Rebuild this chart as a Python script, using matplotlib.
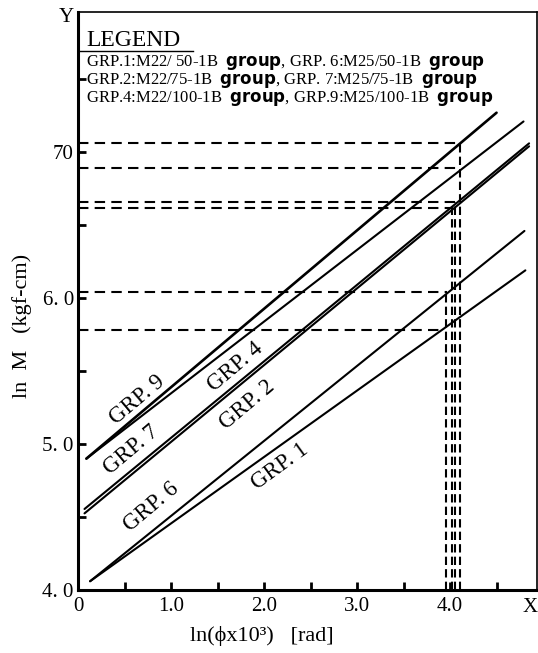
import numpy as np
import matplotlib
matplotlib.use("Agg")
import matplotlib.pyplot as plt

plt.rcParams['font.family'] = ['Liberation Serif', 'DejaVu Serif']
plt.rcParams['mathtext.fontset'] = 'custom'
plt.rcParams['mathtext.bf'] = 'DejaVu Sans:bold'
plt.rcParams['mathtext.rm'] = 'Liberation Serif'

# group lines: start / end points
groups = ["GRP.1", "GRP.6", "GRP.2", "GRP.4", "GRP.7", "GRP.9"]
x_start = [0.13, 0.13, 0.07, 0.07, 0.09, 0.09]
x_end = [4.81, 4.80, 4.85, 4.85, 4.79, 4.50]
y_start = [4.06, 4.06, 4.525, 4.555, 4.90, 4.90]
y_end = [6.19, 6.46, 7.04, 7.06, 7.21, 7.27]

# dashed read-off lines
h_levels = [5.78, 6.04, 6.62, 6.66, 6.89, 7.06]
h_ends = [3.93, 3.97, 4.03, 4.06, 4.11, 4.11]
v_pos = [3.96, 4.02, 4.05, 4.11]
v_tops = [6.04, 6.62, 6.66, 7.06]

x_ticks = [0, 1, 2, 3, 4]
x_ticklabels = ["0", "1.0", "2.0", "3.0", "4.0"]
y_ticks = [4, 5, 6, 7]
y_ticklabels = ["4. 0", "5. 0", "6. 0", "70"]

legend_rows = [
    ["GRP.1:M22/ 50-1B", "GRP. 6:M25/50-1B"],
    ["GRP.2:M22/75-1B", "GRP. 7:M25/75-1B"],
    ["GRP.4:M22/100-1B", "GRP.9:M25/100-1B"],
]

W, H = 538, 653
fig = plt.figure(figsize=(W / 100, H / 100), dpi=100)
ax = fig.add_axes([78 / W, 1 - 590 / H, (537 - 78) / W, (590 - 12) / H])

ax.set_xlim(0, 4.935)
ax.set_ylim(4.0, 7.96)

for i, g in enumerate(groups):
    lw = 1.9 if g == "GRP.9" else 1.5
    ax.plot([x_start[i], x_end[i]], [y_start[i], y_end[i]], color="black", lw=lw,
            solid_capstyle="round")

for lvl, xe in zip(h_levels, h_ends):
    ax.plot([0, xe], [lvl, lvl], color="black", lw=1.5, dashes=(5, 3))
for xv, top in zip(v_pos, v_tops):
    ax.plot([xv, xv], [4.0, top], color="black", lw=1.5, dashes=(4, 2))

# labels along the lines (px positions converted to data)
def px2data(px, py):
    return (px - 78) / 93, 4 + (590 - py) / 146

label_px = {"GRP.9": (137, 400, 40), "GRP.7": (131, 450, 40), "GRP.6": (151, 507, 40),
            "GRP.4": (235, 367, 40), "GRP.2": (247, 405, 40), "GRP.1": (280, 467, 36)}
for g, (px, py, rot) in label_px.items():
    xd, yd = px2data(px, py)
    ax.text(xd, yd, g.replace(".", ". "), rotation=rot, ha="center", va="center",
            rotation_mode="anchor", fontsize=16.5)

ax.set_xticks(x_ticks)
ax.set_xticklabels(x_ticklabels)
ax.set_xticks(np.arange(0.5, 4.9, 1.0), minor=True)
ax.set_yticks(y_ticks)
ax.set_yticklabels(y_ticklabels)
ax.set_yticks(np.arange(4.5, 7.9, 1.0), minor=True)
ax.tick_params(which="both", direction="in", length=6, width=2, labelsize=15)
ax.tick_params(axis="x", pad=5)
ax.tick_params(axis="y", pad=3)

for side in ["left", "bottom"]:
    ax.spines[side].set_linewidth(2.2)
for side in ["right", "top"]:
    ax.spines[side].set_linewidth(1.2)

ax.set_xlabel("ln(ϕx10³)   [rad]", fontsize=16)
ax.xaxis.set_label_coords((262 - 78) / 459, -(636 - 590) / 578, transform=ax.transAxes)
ax.set_ylabel("ln  M   (kgf-cm)", fontsize=16)
ax.yaxis.set_label_coords(-(78 - 22) / 459, (590 - 326) / 578, transform=ax.transAxes)
ax.xaxis.label.set_va("center")
ax.yaxis.label.set_va("center")

fig.text(66 / W, 1 - 18 / H, "Y", fontsize=15, ha="center", va="center")
fig.text(530 / W, 1 - 607 / H, "X", fontsize=15, ha="center", va="center")

# legend block
fig.text(86 / W, 1 - 46 / H, "LEGEND", fontsize=17, ha="left", va="baseline")
fig.add_artist(plt.Line2D([80 / W, 193 / W], [1 - 51 / H, 1 - 51 / H], color="black", lw=1))
for k, (a, b) in enumerate(legend_rows):
    row = a + r"  $\mathbf{group}$, " + b + r"  $\mathbf{group}$"
    fig.text(86 / W, 1 - (63 + 17.5 * k) / H, row, fontsize=12, ha="left", va="center")

fig.savefig("out.png", dpi=100)
